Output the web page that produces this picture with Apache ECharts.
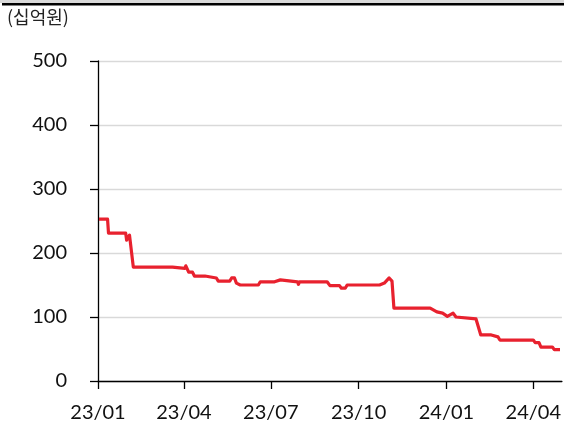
<!DOCTYPE html>
<html><head><meta charset="utf-8">
<script src="https://cdn.jsdelivr.net/npm/echarts@6/dist/echarts.min.js"></script>
<style>html,body{margin:0;padding:0;background:#fff}#c{width:564px;height:432px}</style>
</head><body><div id="c"></div>
<script>
const unitLabel = '(십억원)';
const yTicks = [0, 100, 200, 300, 400, 500];
const xTickDates = ['2023-01-01','2023-04-01','2023-07-01','2023-10-01','2024-01-01','2024-04-01'];
const dates = ['2023-01-02','2023-01-11','2023-01-12','2023-01-30','2023-01-31','2023-02-02','2023-02-03','2023-02-05','2023-02-07',
'2023-03-20','2023-03-22','2023-04-02','2023-04-03','2023-04-06','2023-04-10','2023-04-12','2023-04-23','2023-04-25',
'2023-05-05','2023-05-07','2023-05-19','2023-05-21','2023-05-24','2023-05-26','2023-05-30','2023-06-18','2023-06-20',
'2023-07-05','2023-07-07','2023-07-11','2023-07-13','2023-07-29','2023-07-30','2023-07-31','2023-08-29','2023-09-01',
'2023-09-11','2023-09-13','2023-09-17','2023-09-19','2023-10-23','2023-10-28','2023-11-02','2023-11-05','2023-11-07',
'2023-12-15','2023-12-17','2023-12-22','2023-12-28','2024-01-02','2024-01-04','2024-01-08','2024-01-11','2024-01-13',
'2024-02-01','2024-02-03','2024-02-06','2024-02-17','2024-02-19','2024-02-24','2024-02-26','2024-04-01','2024-04-03',
'2024-04-07','2024-04-09','2024-04-21','2024-04-23','2024-04-29'];
const values = [253,253,231,231,220,220,228,228,178,
178,176,176,180,170,170,164,164,161,
161,156,156,161,161,153,150,150,155,
155,158,158,155,155,151,155,155,149,
149,145,145,150,150,153,161,156,114,
114,111,108,106,101,98,106,100,97,
97,94,72,72,69,69,64,64,60,
60,53,53,49,49];

const ts = d => new Date(d + 'T00:00:00Z').getTime();
const chart = echarts.init(document.getElementById('c'), null, {renderer: 'canvas'});
const fontNum = 'Lato, "Noto Sans", sans-serif';
chart.setOption({
  animation: false,
  grid: {left: 98, right: 2, top: 61, bottom: 51, containLabel: false},
  graphic: [
    {type: 'rect', shape: {x: 0, y: 0, width: 564, height: 3}, style: {fill: '#d9d9d9'}},
    {type: 'rect', shape: {x: 2, y: 3, width: 562, height: 2.5}, style: {fill: '#000'}},
    {type: 'text', left: 7, top: 8, style: {text: unitLabel, font: '18px "Noto Sans CJK KR"', fill: '#222'}}
  ],
  xAxis: {
    type: 'value',
    min: ts('2023-01-01'), max: ts('2024-05-01'),
    axisLine: {show: true, onZero: false, lineStyle: {color: '#000', width: 1.3}},
    axisTick: {show: true, length: 8, lineStyle: {color: '#000', width: 1.3}, customValues: xTickDates.map(ts)},
    axisLabel: {
      customValues: xTickDates.map(ts), margin: 22, color: '#111',
      fontFamily: fontNum, fontSize: 20,
      formatter: v => { const d = new Date(v); return String(d.getUTCFullYear()).slice(2) + '/' + String(d.getUTCMonth()+1).padStart(2,'0'); }
    },
    splitLine: {show: false}
  },
  yAxis: {
    type: 'value', min: 0, max: 500, interval: 100,
    axisLine: {show: true, lineStyle: {color: '#000', width: 1.3}},
    axisTick: {show: true, length: 8, lineStyle: {color: '#000', width: 1.3}},
    axisLabel: {margin: 31, color: '#111', fontFamily: fontNum, fontSize: 20, formatter: v => yTicks.includes(v) ? String(v) : ''},
    splitLine: {show: true, lineStyle: {color: '#d9d9d9', width: 1.3}}
  },
  series: [{
    type: 'line', showSymbol: false, symbol: 'none',
    data: dates.map((d, i) => [ts(d), values[i]]),
    lineStyle: {color: '#e8212e', width: 3.2, join: 'round'},
    z: 5
  }]
});
</script></body></html>
